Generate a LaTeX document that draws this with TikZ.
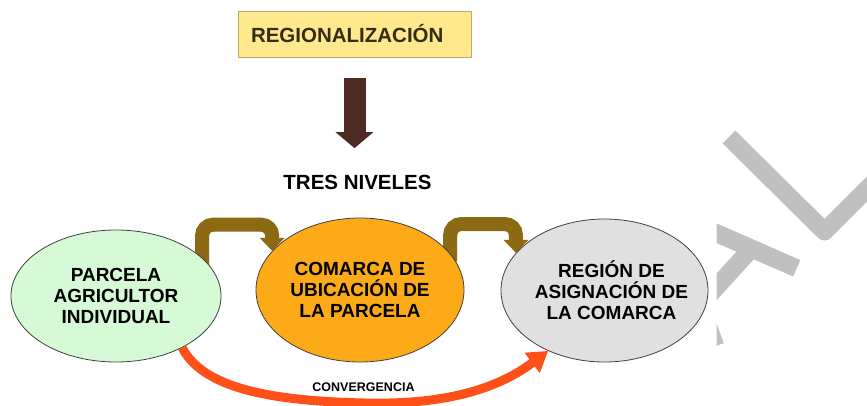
\documentclass[tikz,border=0pt]{standalone}
\usepackage{fontspec}
\setmainfont{Liberation Sans}
\usetikzlibrary{positioning, calc, shapes.geometric, arrows.meta, backgrounds}
\definecolor{levelGreen}{RGB}{214,250,214}
\definecolor{levelOrange}{RGB}{252,170,24}
\definecolor{levelGray}{RGB}{224,224,224}
\definecolor{edgeGray}{RGB}{64,64,64}
\definecolor{titleYellow}{RGB}{255,233,140}
\definecolor{titleRim}{RGB}{190,170,100}
\definecolor{titleInk}{RGB}{50,45,20}
\definecolor{barkBrown}{RGB}{78,44,36}
\definecolor{oliveBend}{RGB}{140,106,20}
\definecolor{flameRed}{RGB}{255,80,25}
\definecolor{markGray}{RGB}{192,192,192}

\begin{document}
\begin{tikzpicture}[x=1pt, y=-1pt,
    level/.style={ellipse, draw=edgeGray, line width=0.8pt, inner sep=0pt},
    leveltext/.style={font=\fontsize{19}{21}\selectfont\bfseries, align=center, text=black},
    titlebox/.style={draw=titleRim, fill=titleYellow, line width=1pt, minimum height=46pt,
      text width=207pt, inner xsep=13pt, align=left, text=titleInk,
      font=\fontsize{20.5}{24}\selectfont\bfseries},
    bendarrow/.style={draw=oliveBend, line width=14pt, rounded corners=11pt,
      -{Triangle[width=24pt,length=13pt]}},
    droparrow/.style={draw=barkBrown, line width=22pt, -{Triangle[width=37pt,length=16pt]}},
    convarrow/.style={draw=flameRed, line width=9pt, -{Triangle[width=24pt,length=20pt]}}]
  \useasboundingbox (0,0) rectangle (867,405);

  % faded mark at the right edge
  \begin{scope}
    \clip (716.7,0) rectangle (867,405);
    \draw[markGray, line width=18pt, line join=round] (729,137) -- (824.5,231.5) -- (905,151);
    \draw[markGray, line width=18pt] (715.3,346.2) -- (666,211) -- (796.7,268.3);
    \draw[markGray, line width=18pt] (700,305) -- (751,249);
  \end{scope}

  \node[titlebox] (reg) at (354.5,34) {REGIONALIZACIÓN};
  \node[font=\fontsize{20.5}{24}\selectfont\bfseries, anchor=base] (tres) at (357.5,189) {TRES NIVELES};
  \draw[droparrow] ($(reg.south)+(0,20)$) -- ($(reg.south |- tres.north)+(0,-23)$);

  % the three levels
  \node[level, fill=levelGreen, minimum width=210pt, minimum height=132pt,
        label={[leveltext]center:PARCELA\\AGRICULTOR\\INDIVIDUAL}] (e1) at (116,296) {};
  \node[level, fill=levelOrange, minimum width=208pt, minimum height=144pt,
        label={[leveltext]center:COMARCA DE\\UBICACIÓN DE\\LA PARCELA}] (e2) at (360,290) {};
  \node[level, fill=levelGray, minimum width=207pt, minimum height=143pt,
        label={[leveltext, xshift=7pt]center:REGIÓN DE\\ASIGNACIÓN DE\\LA COMARCA}] (e3) at (604.5,290.5) {};

  \begin{scope}[on background layer]
    \draw[bendarrow] ($(e1.24)+(0,8)$) -- ++(0,-41) -| (e2.156);
    \draw[bendarrow] ($(e2.22)+(0,8)$) -- ++(0,-37.5) -| (e3.157);
  \end{scope}

  \draw[convarrow] (e1.-38) .. controls (203,388) and (270,401) .. (365,403)
    .. controls (450,405) and (500,387) .. (e3.-133);
  \node[font=\fontsize{12.5}{14}\selectfont\bfseries] (conv) at (363.5,386.7) {CONVERGENCIA};
\end{tikzpicture}
\end{document}
